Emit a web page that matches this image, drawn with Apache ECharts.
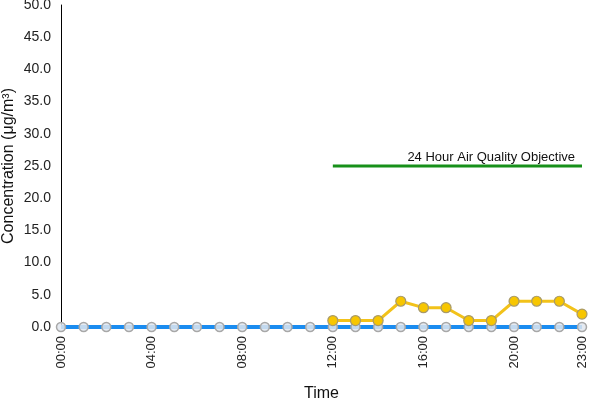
<!DOCTYPE html>
<html><head><meta charset="utf-8">
<script src="https://cdn.jsdelivr.net/npm/echarts@6/dist/echarts.min.js"></script>
<style>html,body{margin:0;padding:0;background:#fff}#c{width:600px;height:400px}</style>
</head><body><div id="c"></div>
<script>
const hours = ['00:00','01:00','02:00','03:00','04:00','05:00','06:00','07:00','08:00','09:00','10:00','11:00','12:00','13:00','14:00','15:00','16:00','17:00','18:00','19:00','20:00','21:00','22:00','23:00'];
const baseline = [0,0,0,0,0,0,0,0,0,0,0,0,0,0,0,0,0,0,0,0,0,0,0,0];
const measured = [null,null,null,null,null,null,null,null,null,null,null,null,1,1,1,4,3,3,1,1,4,4,4,2];
const objective = [null,null,null,null,null,null,null,null,null,null,null,null,25,25,25,25,25,25,25,25,25,25,25,25];
const objectiveLabel = '24 Hour Air Quality Objective';
const yTicks = {min:0, max:50, step:5};

const chart = echarts.init(document.getElementById('c'));
const font = 'Liberation Sans, Arial, sans-serif';
chart.setOption({
  animation:false,
  grid:{left:61, right:18, top:5, bottom:73, containLabel:false, outerBoundsMode:'none'},
  xAxis:{
    type:'category', data:hours, boundaryGap:false,
    name:'Time', nameLocation:'middle', nameGap:59,
    nameTextStyle:{fontFamily:font, fontSize:16, color:'#111'},
    axisLine:{show:false}, axisTick:{show:false},
    axisLabel:{rotate:90, fontFamily:font, fontSize:13, color:'#222', margin:9,
      interval:(i)=> i%4===0 || i===23}
  },
  yAxis:{
    type:'value', min:yTicks.min, max:yTicks.max, interval:yTicks.step,
    name:'Concentration (μg/m³)', nameLocation:'middle', nameGap:44, nameMoveOverlap:false,
    nameTextStyle:{fontFamily:font, fontSize:16, color:'#111'},
    axisLine:{show:true, lineStyle:{color:'#000', width:1}},
    axisTick:{show:false}, splitLine:{show:false},
    axisLabel:{fontFamily:font, fontSize:14, color:'#222', margin:10, formatter:v=>v.toFixed(1)}
  },
  series:[
    {type:'line', data:objective, symbol:'none',
      lineStyle:{color:'#17901a', width:3}, z:2,
      endLabel:{show:true, formatter:objectiveLabel, fontFamily:font, fontSize:13, color:'#111',
        align:'right', verticalAlign:'bottom', distance:0, offset:[-7,-2]}},
    {type:'line', data:baseline, symbol:'circle', symbolSize:9,
      lineStyle:{color:'#1a8cf0', width:4},
      itemStyle:{color:'rgba(225,230,238,0.85)', borderColor:'#a8a8a8', borderWidth:1.5}, z:3},
    {type:'line', data:measured, symbol:'circle', symbolSize:10,
      lineStyle:{color:'#f2c21a', width:3},
      itemStyle:{color:'#f7c600', borderColor:'#a89a6a', borderWidth:1.2}, z:4}
  ]
});
</script></body></html>
